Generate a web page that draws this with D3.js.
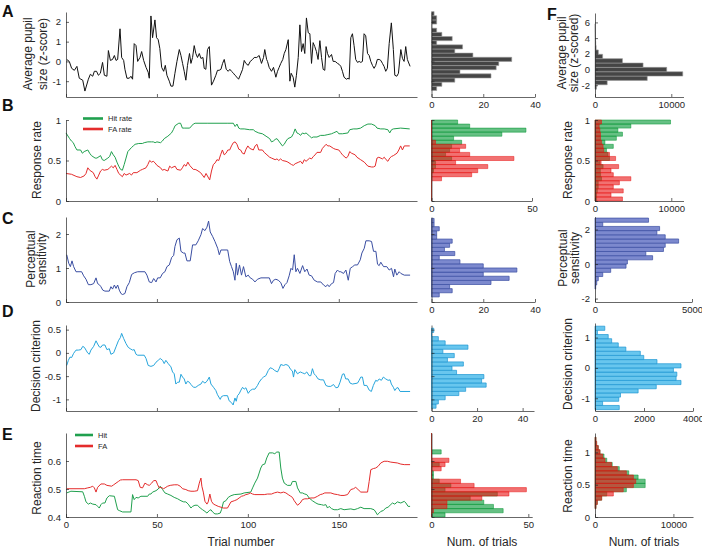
<!DOCTYPE html>
<html><head><meta charset="utf-8">
<script src="https://cdn.jsdelivr.net/npm/d3@7"></script>
<style>body{margin:0;background:#fff}svg{display:block}</style>
</head><body><script>
// ---------------- DATA ----------------
const trialTicks = [0, 50, 100, 150];
// A: average pupil size per trial [trial, z]
const pupil = [[0.4,0.1],[1.8,0.0],[3.1,-0.35],[4.6,-0.45],[6.0,-0.25],[7.3,-0.85],[8.2,-0.9],[9.2,-0.95],[10.4,-1.5],[12.3,-0.9],[13.4,-0.65],[14.7,-0.75],[15.6,-0.5],[16.8,-0.5],[17.8,-0.7],[18.9,-0.6],[20.1,-0.05],[21.1,-0.7],[22.5,-0.75],[23.3,0.55],[24.4,0.05],[25.6,0.1],[26.6,0.3],[27.5,0.05],[28.4,0.1],[29.7,1.65],[30.6,0.2],[31.7,0.05],[32.4,-0.4],[33.5,-0.85],[34.8,-0.85],[35.7,-0.75],[36.6,-0.9],[37.5,0.9],[38.5,0.8],[39.4,0.0],[40.7,0.2],[41.6,0.5],[42.7,0.05],[44.0,-0.3],[45.2,-0.55],[45.8,-0.85],[46.7,2.3],[47.6,1.2],[48.9,2.1],[49.8,1.2],[50.7,1.1],[51.6,0.65],[52.6,-0.3],[53.7,-0.5],[54.6,-0.2],[55.5,-0.7],[56.8,-1.0],[57.7,-1.25],[58.8,-1.25],[59.9,-0.6],[61.0,0.0],[62.3,0.6],[63.2,0.3],[64.1,-0.1],[65.0,-0.5],[65.9,-0.95],[66.8,-0.2],[67.9,0.4],[68.7,-0.1],[69.6,0.2],[70.5,0.8],[71.4,0.4],[72.3,0.2],[73.3,0.4],[74.2,0.15],[75.3,0.2],[76.0,-0.35],[76.9,-0.4],[77.8,0.6],[78.8,0.75],[80.0,-1.2],[81.1,-1.0],[82.4,-0.7],[83.3,-0.45],[84.2,-0.45],[85.2,-0.4],[86.1,-0.1],[87.0,0.1],[88.1,-0.4],[89.2,-0.5],[90.1,-0.4],[91.0,-0.5],[92.1,-0.6],[92.9,-0.7],[94.0,-0.8],[94.9,-0.9],[95.8,-0.7],[97.1,-0.4],[98.0,0.05],[98.9,-0.1],[100.2,-0.2],[101.3,0.0],[102.6,0.1],[103.5,0.2],[104.9,0.2],[106.2,0.3],[107.5,-0.1],[108.6,0.2],[109.3,0.6],[110.3,0.1],[110.8,0.0],[111.7,-0.3],[113.0,-0.5],[114.1,-0.3],[115.4,-0.8],[116.3,-0.5],[117.2,-0.3],[118.1,-0.1],[119.2,0.1],[120.0,0.4],[120.9,0.6],[122.2,1.1],[123.1,-1.0],[123.8,-0.6],[124.9,-0.8],[125.8,-1.3],[126.7,-0.7],[127.7,0.2],[128.6,1.85],[129.5,0.5],[130.4,0.9],[131.3,0.4],[132.2,2.2],[133.2,1.45],[134.1,1.4],[135.0,-0.1],[135.9,0.95],[136.8,0.75],[137.7,0.5],[138.6,0.1],[139.6,1.05],[140.5,0.2],[141.4,-0.4],[142.3,-0.45],[143.0,0.75],[143.8,0.4],[144.7,0.2],[146.0,0.35],[146.9,0.0],[148.0,0.0],[149.3,-0.1],[150.2,-0.15],[151.1,-0.25],[152.0,-0.5],[152.9,-0.8],[154.2,-0.9],[155.1,-0.85],[155.7,-0.9],[156.6,1.2],[157.5,1.4],[158.4,0.8],[159.3,0.1],[160.3,-0.05],[161.2,0.0],[162.1,-0.05],[163.0,0.0],[163.9,1.4],[164.8,1.3],[165.8,0.4],[166.7,0.3],[167.6,0.0],[168.5,-0.2],[169.4,-0.35],[170.3,-0.2],[171.2,0.1],[172.2,0.1],[173.1,0.05],[174.0,-0.1],[174.9,-0.25],[175.8,-0.5],[176.7,-0.35],[177.7,0.9],[178.9,1.95],[180.0,0.6],[180.8,-0.7],[181.9,-0.75],[182.8,-0.6],[184.1,0.6],[185.0,0.15],[185.9,0.0],[186.8,0.75],[187.7,0.1],[189.2,-0.25]];
// B: response rates
const hitRate = [[0,0.84],[2,0.77],[3,0.74],[4,0.72],[5,0.67],[6,0.63],[8,0.63],[9,0.59],[10,0.61],[12,0.63],[13,0.59],[14,0.56],[16,0.53],[17,0.53],[19,0.56],[20,0.51],[21,0.50],[23,0.53],[24,0.55],[25,0.61],[26,0.57],[27,0.54],[28,0.48],[29,0.43],[30,0.39],[31,0.38],[32,0.45],[33,0.53],[34,0.61],[36,0.66],[37,0.68],[38,0.70],[40,0.71],[42,0.71],[43,0.72],[45,0.73],[47,0.73],[48,0.73],[49,0.72],[50,0.73],[52,0.72],[53,0.74],[54,0.77],[56,0.80],[58,0.84],[59,0.88],[60,0.93],[62,0.96],[63,0.96],[64,0.90],[65,0.90],[68,0.90],[70,0.95],[71,0.96],[78,0.96],[89,0.96],[92,0.96],[93,0.92],[94,0.95],[95,0.90],[96,0.89],[98,0.89],[101,0.88],[103,0.88],[104,0.86],[106,0.84],[108,0.83],[110,0.80],[112,0.77],[113,0.73],[114,0.74],[115,0.76],[116,0.77],[117,0.74],[119,0.68],[120,0.70],[121,0.74],[122,0.77],[124,0.79],[125,0.83],[126,0.89],[127,0.84],[128,0.83],[129,0.81],[130,0.84],[131,0.83],[132,0.84],[134,0.80],[135,0.78],[136,0.79],[138,0.79],[140,0.81],[142,0.81],[144,0.82],[146,0.83],[147,0.84],[149,0.86],[150,0.83],[152,0.83],[155,0.84],[156,0.88],[158,0.89],[160,0.89],[162,0.90],[164,0.93],[166,0.95],[168,0.95],[170,0.93],[171,0.90],[173,0.89],[175,0.89],[177,0.88],[178,0.84],[179,0.88],[180,0.89],[184,0.90],[189,0.89]];
const faRate = [[0,0.34],[3,0.33],[5,0.31],[6,0.30],[8,0.29],[10,0.31],[11,0.34],[12,0.41],[13,0.38],[15,0.35],[16,0.30],[17,0.27],[18,0.32],[19,0.37],[20,0.39],[21,0.38],[23,0.39],[24,0.41],[25,0.43],[26,0.41],[27,0.44],[28,0.39],[29,0.34],[31,0.30],[32,0.34],[33,0.32],[35,0.34],[36,0.32],[37,0.35],[39,0.35],[41,0.38],[42,0.39],[44,0.41],[45,0.45],[46,0.50],[47,0.48],[48,0.49],[49,0.47],[50,0.44],[52,0.41],[53,0.38],[54,0.39],[56,0.37],[57,0.43],[58,0.41],[60,0.43],[61,0.39],[63,0.38],[64,0.41],[65,0.45],[66,0.43],[67,0.48],[68,0.44],[70,0.39],[71,0.39],[72,0.38],[74,0.35],[75,0.32],[76,0.29],[77,0.34],[79,0.26],[80,0.37],[81,0.45],[82,0.47],[83,0.51],[84,0.50],[85,0.57],[86,0.63],[87,0.57],[88,0.59],[89,0.63],[90,0.63],[91,0.68],[92,0.72],[93,0.73],[94,0.70],[95,0.64],[96,0.63],[97,0.59],[98,0.58],[99,0.64],[100,0.68],[101,0.65],[103,0.63],[104,0.68],[105,0.70],[106,0.63],[108,0.63],[109,0.60],[110,0.58],[112,0.54],[113,0.53],[115,0.51],[116,0.52],[117,0.50],[118,0.52],[119,0.50],[121,0.49],[122,0.48],[124,0.45],[125,0.44],[126,0.46],[128,0.48],[129,0.49],[130,0.46],[131,0.51],[132,0.49],[134,0.53],[135,0.52],[136,0.55],[137,0.57],[138,0.60],[140,0.60],[141,0.65],[143,0.70],[144,0.68],[145,0.68],[147,0.65],[148,0.64],[150,0.63],[151,0.60],[152,0.57],[154,0.53],[155,0.55],[156,0.61],[157,0.59],[159,0.57],[160,0.54],[162,0.51],[164,0.48],[166,0.43],[168,0.42],[169,0.42],[170,0.43],[171,0.53],[172,0.54],[174,0.52],[175,0.54],[176,0.51],[177,0.49],[178,0.53],[179,0.55],[180,0.56],[182,0.59],[183,0.63],[184,0.68],[185,0.63],[186,0.68],[189,0.68]];
// C: perceptual sensitivity
const dprime = [[0.4,1.39],[1.5,1.14],[2.4,1.04],[3.3,1.21],[4.2,1.04],[5.5,0.89],[8.6,0.89],[9.7,0.77],[11.0,0.67],[12.3,0.51],[13.7,0.51],[15.2,0.54],[16.5,0.71],[17.4,0.54],[18.3,0.51],[19.2,0.45],[20.2,0.35],[21.4,0.32],[23.8,0.32],[24.7,0.45],[25.6,0.38],[26.6,0.50],[27.5,0.40],[28.4,0.50],[29.3,0.35],[30.2,0.25],[31.1,0.22],[32.4,0.25],[33.5,0.45],[34.8,0.57],[36.1,0.81],[37.6,0.86],[39.4,0.89],[43.4,0.89],[44.5,0.79],[45.8,0.59],[47.1,0.57],[48.2,0.69],[49.5,0.59],[50.4,0.71],[51.8,0.71],[53.1,0.84],[54.4,0.89],[55.5,1.04],[56.8,1.09],[58.1,1.31],[59.2,1.37],[59.9,1.63],[61.0,1.83],[62.3,1.88],[63.2,1.49],[64.5,1.44],[65.4,1.44],[66.5,1.21],[68.3,1.21],[69.6,1.68],[71.4,1.68],[72.7,1.80],[74.2,1.98],[75.1,2.16],[76.4,2.10],[77.5,2.20],[78.4,2.38],[79.3,2.06],[80.6,1.93],[81.9,1.78],[83.4,1.58],[84.3,1.39],[85.2,1.53],[88.9,1.53],[90.0,1.19],[91.0,1.04],[92.0,0.89],[92.9,0.64],[93.6,1.14],[94.3,0.79],[95.4,1.09],[96.5,0.79],[97.6,1.04],[98.9,0.74],[100.2,0.79],[101.3,0.71],[102.6,0.67],[103.9,0.59],[105.3,0.67],[107.2,0.71],[111.8,0.71],[113.0,0.54],[114.1,0.64],[115.4,0.67],[116.7,0.64],[118.1,0.57],[119.3,0.40],[120.4,0.51],[121.5,0.57],[122.7,0.77],[123.7,0.99],[124.6,0.94],[125.5,1.39],[126.4,0.89],[127.3,0.99],[128.6,0.84],[130.1,1.07],[131.3,0.89],[132.5,0.97],[133.7,0.79],[135.0,0.77],[136.5,0.64],[138.3,0.59],[140.1,0.59],[141.6,0.50],[142.9,0.45],[143.8,0.51],[144.7,0.45],[146.0,0.54],[147.1,0.57],[148.0,0.84],[149.3,0.94],[150.2,0.89],[151.1,0.89],[152.6,0.84],[153.9,0.94],[155.2,0.64],[156.3,0.99],[157.6,1.04],[158.8,1.09],[160.3,1.09],[161.8,1.24],[162.7,1.44],[164.0,1.58],[164.9,1.80],[166.7,1.80],[168.0,1.78],[169.1,1.49],[170.4,1.49],[171.3,1.11],[172.2,1.07],[173.1,1.17],[174.6,1.04],[176.4,1.04],[177.7,0.94],[179.0,0.99],[180.1,0.74],[180.8,0.97],[181.9,0.79],[183.2,0.89],[184.1,0.84],[186.0,0.79],[189.2,0.79]];
// D: decision criterion
const criterion = [[0.4,-0.27],[1.3,-0.16],[2.2,-0.09],[3.1,-0.10],[4.2,-0.01],[5.5,0.06],[6.8,0.06],[8.2,0.07],[9.2,0.14],[10.1,0.12],[11.0,0.06],[11.9,0.0],[12.8,-0.03],[13.7,0.06],[15.2,0.14],[16.5,0.26],[17.4,0.19],[18.3,0.13],[19.2,0.12],[20.1,0.17],[21.4,0.17],[22.5,0.07],[23.8,0.09],[24.7,-0.03],[26.2,0.0],[27.5,0.13],[28.8,0.26],[29.9,0.33],[30.6,0.42],[31.7,0.31],[33.0,0.20],[34.2,0.12],[35.3,0.09],[36.6,0.06],[37.5,0.07],[38.5,-0.03],[39.4,-0.05],[43.0,-0.05],[44.0,-0.12],[45.2,-0.27],[46.7,-0.29],[48.2,-0.27],[49.5,-0.20],[50.7,-0.16],[51.8,-0.12],[53.1,-0.16],[54.0,-0.23],[54.9,-0.16],[56.2,-0.23],[57.7,-0.30],[58.6,-0.41],[59.5,-0.45],[60.4,-0.67],[61.4,-0.63],[62.3,-0.63],[63.2,-0.46],[64.1,-0.52],[65.0,-0.56],[65.9,-0.67],[66.8,-0.61],[67.8,-0.63],[68.7,-0.68],[70.1,-0.74],[71.4,-0.74],[72.7,-0.70],[74.2,-0.67],[75.1,-0.61],[76.4,-0.65],[77.5,-0.61],[78.8,-0.52],[79.7,-0.67],[81.1,-0.74],[82.4,-0.81],[83.3,-0.90],[84.8,-1.0],[85.5,-0.94],[86.6,-0.92],[88.8,-0.92],[89.7,-1.03],[91.0,-1.07],[91.9,-1.12],[92.9,-0.97],[93.6,-1.04],[94.3,-0.92],[95.2,-0.88],[96.2,-0.80],[97.1,-0.74],[98.0,-0.78],[98.9,-0.75],[100.2,-0.87],[101.3,-0.81],[102.6,-0.78],[103.9,-0.78],[105.3,-0.70],[106.2,-0.63],[107.5,-0.56],[108.6,-0.52],[109.9,-0.49],[111.2,-0.38],[112.3,-0.32],[113.6,-0.34],[114.8,-0.38],[116.3,-0.41],[117.2,-0.34],[118.1,-0.25],[119.6,-0.27],[120.9,-0.25],[122.2,-0.27],[123.6,-0.36],[124.5,-0.39],[125.1,-0.52],[125.8,-0.36],[127.3,-0.45],[128.8,-0.41],[130.0,-0.43],[131.3,-0.45],[132.4,-0.41],[133.7,-0.49],[134.6,-0.49],[135.5,-0.34],[136.4,-0.45],[137.4,-0.49],[138.6,-0.56],[140.1,-0.58],[141.6,-0.58],[142.9,-0.70],[144.1,-0.72],[145.6,-0.72],[147.1,-0.68],[148.4,-0.75],[149.6,-0.74],[150.7,-0.63],[152.0,-0.46],[152.9,-0.45],[153.8,-0.56],[155.1,-0.56],[156.2,-0.65],[157.5,-0.67],[160.3,-0.65],[161.2,-0.59],[162.1,-0.52],[163.0,-0.52],[163.9,-0.70],[165.4,-0.70],[166.7,-0.80],[167.9,-0.83],[169.0,-0.70],[170.3,-0.59],[171.2,-0.61],[172.2,-0.56],[173.4,-0.59],[174.5,-0.52],[175.8,-0.56],[177.1,-0.59],[178.2,-0.58],[178.9,-0.67],[180.0,-0.74],[180.8,-0.81],[181.9,-0.75],[182.6,-0.75],[183.7,-0.83],[189.2,-0.83]];
// E: reaction times
const rtHit = [[0.4,0.486],[2.7,0.492],[9.2,0.49],[10.1,0.474],[11.0,0.454],[12.3,0.446],[13.4,0.45],[14.7,0.446],[16.5,0.444],[17.4,0.438],[18.3,0.432],[19.2,0.444],[20.1,0.45],[21.4,0.45],[22.5,0.468],[23.8,0.476],[26.6,0.474],[27.5,0.45],[28.4,0.426],[29.3,0.423],[31.1,0.418],[35.7,0.418],[36.6,0.48],[37.5,0.462],[38.5,0.47],[39.7,0.468],[41.2,0.474],[44.9,0.474],[45.8,0.482],[46.7,0.482],[47.6,0.489],[49.5,0.494],[50.7,0.50],[51.8,0.51],[53.1,0.498],[54.4,0.486],[55.9,0.482],[57.7,0.477],[59.5,0.47],[61.4,0.465],[63.2,0.458],[64.7,0.454],[65.9,0.454],[67.2,0.446],[68.7,0.432],[69.6,0.438],[70.9,0.442],[72.3,0.442],[73.8,0.432],[75.1,0.426],[76.4,0.42],[77.5,0.414],[78.8,0.423],[79.7,0.426],[80.6,0.418],[81.9,0.411],[83.3,0.411],[84.8,0.414],[85.5,0.426],[86.6,0.454],[87.9,0.458],[89.2,0.47],[90.7,0.476],[92.5,0.48],[96.2,0.482],[98.0,0.486],[101.6,0.489],[102.6,0.504],[103.8,0.521],[105.3,0.539],[106.2,0.557],[107.1,0.575],[108.1,0.587],[109.3,0.589],[110.4,0.611],[111.7,0.629],[113.6,0.629],[114.8,0.626],[115.9,0.632],[117.2,0.632],[118.1,0.575],[119.0,0.539],[120.0,0.521],[121.8,0.513],[123.6,0.513],[124.5,0.527],[126.4,0.527],[127.3,0.504],[128.8,0.486],[130.0,0.486],[131.3,0.482],[132.4,0.48],[133.7,0.468],[135.5,0.458],[137.4,0.45],[138.6,0.446],[140.5,0.444],[141.6,0.442],[142.9,0.444],[143.8,0.432],[144.7,0.438],[146.0,0.43],[147.4,0.426],[149.3,0.426],[151.1,0.43],[152.9,0.426],[156.6,0.429],[158.4,0.426],[160.3,0.43],[162.1,0.435],[163.9,0.43],[167.6,0.43],[169.4,0.426],[170.3,0.418],[171.2,0.408],[172.2,0.414],[173.1,0.42],[174.5,0.423],[175.8,0.432],[177.1,0.435],[178.2,0.442],[179.5,0.45],[180.8,0.446],[182.2,0.454],[184.1,0.45],[186.0,0.456],[186.9,0.45],[188.1,0.438],[189.2,0.438]];
const rtFA = [[0.4,0.501],[10.1,0.501],[11.9,0.504],[13.4,0.506],[14.7,0.51],[15.6,0.504],[16.5,0.489],[17.4,0.506],[19.2,0.518],[21.1,0.518],[22.5,0.513],[25.1,0.51],[26.2,0.515],[27.5,0.521],[28.8,0.527],[29.9,0.532],[31.1,0.533],[38.5,0.533],[39.7,0.53],[40.8,0.506],[42.1,0.504],[43.4,0.521],[44.9,0.515],[45.8,0.513],[47.1,0.521],[48.2,0.53],[49.5,0.53],[50.4,0.515],[51.3,0.504],[52.2,0.506],[53.7,0.501],[54.9,0.506],[55.9,0.51],[57.3,0.513],[59.5,0.515],[61.4,0.515],[62.8,0.51],[64.1,0.501],[65.9,0.498],[67.2,0.494],[68.7,0.492],[70.5,0.492],[72.3,0.494],[73.3,0.521],[74.2,0.539],[74.7,0.51],[75.5,0.489],[76.4,0.456],[77.5,0.446],[78.2,0.454],[79.1,0.482],[80.0,0.456],[81.1,0.446],[82.4,0.442],[83.7,0.438],[85.2,0.435],[86.6,0.432],[88.8,0.432],[90.7,0.454],[92.5,0.458],[94.0,0.462],[95.2,0.468],[96.5,0.474],[97.6,0.476],[98.9,0.48],[100.2,0.482],[101.3,0.486],[102.6,0.482],[103.8,0.48],[109.0,0.48],[110.8,0.482],[113.0,0.482],[114.5,0.486],[116.3,0.489],[118.1,0.486],[119.6,0.489],[120.9,0.486],[122.2,0.48],[123.6,0.474],[124.5,0.47],[125.5,0.458],[126.4,0.45],[127.3,0.442],[128.8,0.45],[130.0,0.462],[131.3,0.465],[132.8,0.465],[134.6,0.468],[136.4,0.468],[138.3,0.474],[139.8,0.48],[141.0,0.482],[142.3,0.486],[145.6,0.486],[147.4,0.482],[149.3,0.48],[151.1,0.477],[152.9,0.477],[154.8,0.48],[155.7,0.489],[156.6,0.498],[158.1,0.501],[159.3,0.506],[160.6,0.498],[162.1,0.489],[165.8,0.489],[166.7,0.527],[167.6,0.569],[169.0,0.573],[170.3,0.575],[171.6,0.581],[173.1,0.593],[174.9,0.599],[176.7,0.599],[178.6,0.596],[182.2,0.593],[184.1,0.589],[186.0,0.587],[189.2,0.587]];

// Histograms of this session (bin start, bin width, counts from lowest bin upward)
const pupilHistBins = {start: -1.47, width: 0.21};
const pupilHistCounts = [2,4,9,23,11,25,26,31,16,9,12,2,8,4,2,0,2,2,1];
const rateHistBins = {start: 0, width: 0.05};
const hitRateHistCounts = [0,0,0,0,0,0,0,1,2,2,10,7,9,10,15,11,35,47,19,13];
const faRateHistCounts  = [0,0,0,0,0,5,20,23,28,12,41,19,14,17,2,0,0,0,0,0];
const dprimeHistBins = {start: 0.15, width: 0.1215};
const dprimeHistCounts = [3,8,7,23,30,20,33,20,11,3,9,5,7,8,2,2,3,1,1];
const criterionHistBins = {start: -1.19, width: 0.0906};
const criterionHistCounts = [2,3,6,12,15,24,22,23,11,9,14,7,10,5,16,6,3,0,1];
const rtHistBins = {start: 0.4, width: 0.015};
const rtHitHistCounts = [7,37,32,27,20,34,7,10,4,1,1,0,4,0,0,5,0,0,0,0];
const rtFAHistCounts  = [0,1,8,8,26,40,49,22,15,0,0,5,7,9,0,0,0,0,0,0];

// F: all sessions pooled
const allPupilBins = {start: -2.5, width: 0.555};
const allPupilCounts = [200,1600,6850,11500,9400,6300,3600,1000,440,150,100,60,40,20,10];
const allRateBins = {start: 0, width: 0.05};
const allHitRateCounts = [210,210,300,420,420,850,730,700,1060,640,1900,1700,1500,2400,1300,2800,3600,3000,4700,9900];
const allFaRateCounts  = [3600,2100,3700,2400,3200,4700,2400,2100,3100,800,2700,1900,1150,1060,850,720,720,640,550,850];
const allDprimeBins = {start: -1.45, width: 0.242};
const allDprimeCounts = [35,90,170,400,810,1600,1670,2970,2620,3530,3620,4310,3620,3190,3330,400,2760];
const allCriterionBins = {start: -1.375, width: 0.1375};
const allCriterionCounts = [990,310,970,1040,1760,2500,3510,3310,3340,3200,3510,2530,1990,1850,1260,950,680,540,100,400];
const allRtBins = {start: 0.13, width: 0.065};
const allRtHitCounts = [130,300,850,1500,4000,6400,6400,5500,4300,3100,2200,1500,1150,640,420,210,130];
const allRtFACounts  = [130,300,850,2340,3600,4900,5200,4900,4000,2850,2100,1280,980,640,420,210,130];

// Axis domains / ticks
const yDomains = [[-1.8,2.5],[0,1],[0,2.5],[-1.25,0.6],[0.4,0.7]];
const yTicks = [[-1,0,1,2],[0,0.5,1],[0,1,2],[-1,-0.5,0,0.5],[0.4,0.5,0.6]];
const histDomains = [[0,40],[0,50],[0,40],[0,45],[0,52]];
const histTicks = [[0,20,40],[0,50],[0,20,40],[0,20,40],[0,50]];
const fYDomains = [[-3.5,7.2],[0,1],[-2.2,2.75],[-1.42,1.48],[0,1.3]];
const fYTicks = [[-2,0,2,4,6],[0,0.5,1],[-2,0,2],[-1,0,1],[0,0.5,1]];
const fXDomains = [[0,11600],[0,11600],[0,5000],[0,4000],[0,12500]];
const fXTicks = [[0,10000],[0,10000],[0,5000],[0,2000,4000],[0,10000]];

// ---------------- LAYOUT ----------------
const FONT = '"Liberation Sans", Arial, Helvetica, sans-serif';
const AX = '#262626';
const rowsPx = [[97,12],[201,120],[302,217],[411,325],[517,433]];
const fRowsPx = [[97,13],[201,120],[302,216.6],[411,323],[517,433]];
const lineX = [66,417];
const histX = [[431.5,535],[431.5,532],[431.5,535],[431.5,534],[431.5,532.2]];
const fX = [[595,683.5],[595,683.5],[595,692],[595,693],[595,693]];

const GREEN = 'rgb(32,160,78)', RED = 'rgb(228,44,44)';
const HGREEN = 'rgb(0,150,50)', HRED = 'rgb(232,18,18)';

const svg = d3.select('body').append('svg').attr('width',702).attr('height',550)
  .style('font-family', FONT);

const xTrial = d3.scaleLinear().domain([0,193]).range(lineX);

function styleAxis(g){
  g.selectAll('path.domain').attr('stroke',AX).attr('stroke-width',0.7);
  g.selectAll('.tick line').attr('stroke',AX).attr('stroke-width',0.7);
  g.selectAll('.tick text').attr('fill',AX).style('font-size','9.5px').style('font-family',FONT);
}
function axes(x, y, xt, yt, xLabels, yLabels){
  svg.append('g').attr('transform',`translate(0,${y.range()[0]})`)
    .call(d3.axisBottom(x).tickValues(xt).tickSizeInner(-3).tickSizeOuter(0).tickPadding(4)
      .tickFormat(xLabels ? (d=>String(d)) : (()=>''))).call(styleAxis);
  svg.append('g').attr('transform',`translate(${x.range()[0]},0)`)
    .call(d3.axisLeft(y).tickValues(yt).tickSizeInner(-3).tickSizeOuter(0).tickPadding(5)
      .tickFormat(yLabels ? (d=>String(d)) : (()=>''))).call(styleAxis);
}
function line(x, y, data, color, w){
  svg.append('path').datum(data).attr('fill','none').attr('stroke',color).attr('stroke-width',w||1)
    .attr('stroke-linejoin','round')
    .attr('d', d3.line().x(d=>x(d[0])).y(d=>y(d[1])));
}
function hist(x, y, bins, counts, fill, stroke, op, sw){
  svg.append('g').selectAll('path').data(counts).join('path')
    .attr('d',(c,i)=>{const b0=bins.start+i*bins.width, b1=b0+bins.width;
      return `M${x(0)},${y(b0)}H${x(c)}V${y(b1)}H${x(0)}Z`;})
    .attr('fill',fill).attr('fill-opacity',op).attr('stroke',stroke)
    .attr('stroke-width',sw||0.6).attr('stroke-opacity',Math.min(1,op+0.25));
}
function ylabel(lines, xs, yc){
  lines.forEach((t,i)=>{
    svg.append('text').attr('transform',`translate(${xs[i]},${yc}) rotate(-90)`)
      .attr('text-anchor','middle').attr('dy','0.35em').style('font-size','12px').attr('fill',AX).text(t);
  });
}
function letter(t, x, y){
  svg.append('text').attr('x',x).attr('y',y).style('font-size','16px').style('font-weight','bold')
    .attr('fill','#111').text(t);
}

// scales per row
const yLine = yDomains.map((d,i)=>d3.scaleLinear().domain(d).range(rowsPx[i]));
const xHist = histDomains.map((d,i)=>d3.scaleLinear().domain(d).range(histX[i]));
const yF = fYDomains.map((d,i)=>d3.scaleLinear().domain(d).range(fRowsPx[i]));
const xF = fXDomains.map((d,i)=>d3.scaleLinear().domain(d).range(fX[i]));

// ---- Row A
line(xTrial, yLine[0], pupil, '#111', 1);
hist(xHist[0], yLine[0], pupilHistBins, pupilHistCounts, '#454545', '#9a9a9a', 1, 0.6);
hist(xF[0], yF[0], allPupilBins, allPupilCounts, '#454545', '#9a9a9a', 1, 0.6);
// ---- Row B
line(xTrial, yLine[1], hitRate, GREEN, 1);
line(xTrial, yLine[1], faRate, RED, 1);
hist(xHist[1], yLine[1], rateHistBins, hitRateHistCounts, HGREEN, HGREEN, 0.6);
hist(xHist[1], yLine[1], rateHistBins, faRateHistCounts, HRED, HRED, 0.6);
hist(xF[1], yF[1], allRateBins, allHitRateCounts, HGREEN, HGREEN, 0.6);
hist(xF[1], yF[1], allRateBins, allFaRateCounts, HRED, HRED, 0.6);
// ---- Row C
const CBLUE='rgb(58,78,162)', CFILL='rgb(124,137,206)';
line(xTrial, yLine[2], dprime, CBLUE, 1);
hist(xHist[2], yLine[2], dprimeHistBins, dprimeHistCounts, CFILL, CBLUE, 1, 0.7);
hist(xF[2], yF[2], allDprimeBins, allDprimeCounts, CFILL, CBLUE, 1, 0.7);
// ---- Row D
const DBLUE='rgb(38,165,220)', DFILL='rgb(104,198,238)';
line(xTrial, yLine[3], criterion, DBLUE, 1);
hist(xHist[3], yLine[3], criterionHistBins, criterionHistCounts, DFILL, 'rgb(30,150,210)', 1, 0.7);
hist(xF[3], yF[3], allCriterionBins, allCriterionCounts, DFILL, 'rgb(30,150,210)', 1, 0.7);
// ---- Row E
line(xTrial, yLine[4], rtHit, GREEN, 1);
line(xTrial, yLine[4], rtFA, RED, 1);
hist(xHist[4], yLine[4], rtHistBins, rtHitHistCounts, HGREEN, HGREEN, 0.6);
hist(xHist[4], yLine[4], rtHistBins, rtFAHistCounts, HRED, HRED, 0.6);
hist(xF[4], yF[4], allRtBins, allRtHitCounts, HGREEN, HGREEN, 0.6);
hist(xF[4], yF[4], allRtBins, allRtFACounts, HRED, HRED, 0.6);

// axes
for (let i=0;i<5;i++){
  axes(xTrial, yLine[i], trialTicks, yTicks[i], i===4, true);
  axes(xHist[i], yLine[i], histTicks[i], yTicks[i], true, false);
  axes(xF[i], yF[i], fXTicks[i], fYTicks[i], true, true);
}

// legends
function legend(x0, x1, y, color, label){
  svg.append('line').attr('x1',x0).attr('x2',x1).attr('y1',y).attr('y2',y).attr('stroke',color).attr('stroke-width',2.6);
  svg.append('text').attr('x',x1+5).attr('y',y).attr('dy','0.35em').style('font-size','7.5px').attr('fill',AX).text(label);
}
legend(83,103,118.5,GREEN,'Hit rate');
legend(83,103,129,RED,'FA rate');
legend(75,93,435,GREEN,'Hit');
legend(75,93,446,RED,'FA');

// y labels
ylabel(['Average pupil','size (z-score)'],[28,43],54);
ylabel(['Response rate'],[37],160);
ylabel(['Perceptual','sensitivity'],[31,42],259);
ylabel(['Decision criterion'],[36],366);
ylabel(['Reaction time'],[37,],478);
ylabel(['Average pupil','size (z-scored)'],[562,574],53);
ylabel(['Response rate'],[568],160);
ylabel(['Perceptual','sensitivity'],[563,575],258);
ylabel(['Decision criterion'],[568],364);
ylabel(['Reaction time'],[568],476);

// x titles
[['Trial number',241],['Num. of trials',482],['Num. of trials',644]].forEach(([t,x])=>{
  svg.append('text').attr('x',x).attr('y',546).attr('text-anchor','middle').style('font-size','12px').attr('fill',AX).text(t);
});

// panel letters
letter('A',2,17); letter('B',2,111); letter('C',2,224); letter('D',2,317); letter('E',2,440); letter('F',547,20);
</script></body></html>
